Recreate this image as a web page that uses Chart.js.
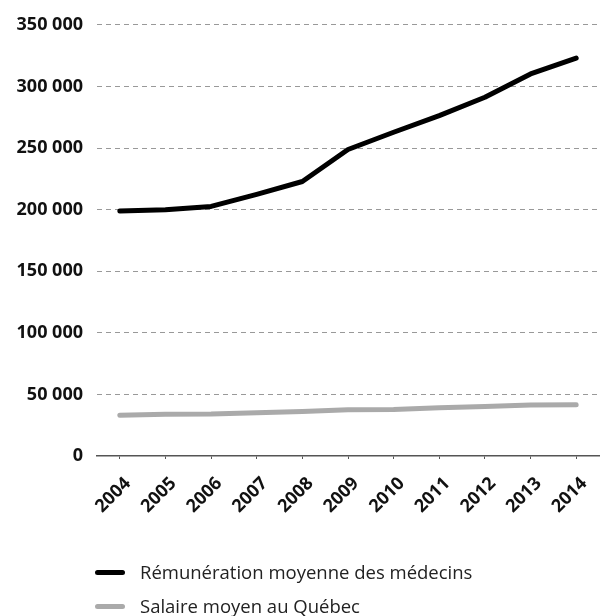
<!DOCTYPE html>
<html>
<head>
<meta charset="utf-8">
<script src="https://cdn.jsdelivr.net/npm/chart.js@4/dist/chart.umd.min.js"></script>
<style>
  html, body { margin: 0; padding: 0; background: #fff; overflow: hidden; }
  #wrap { position: relative; width: 601px; height: 616px; }
  #graphique { display: block; }
  #legende { position: absolute; left: 95px; top: 555px; font-family: "Open Sans", sans-serif; font-size: 18.5px; color: #222; }
  .item { display: flex; align-items: center; height: 34px; line-height: 34px; white-space: nowrap; }
  .trait { width: 30px; height: 5px; border-radius: 3px; margin-right: 15px; }
</style>
</head>
<body>
<div id="wrap">
  <canvas id="graphique" width="601" height="616"></canvas>
  <div id="legende"></div>
</div>
<script>
// donnees
const annees = ['2004', '2005', '2006', '2007', '2008', '2009', '2010', '2011', '2012', '2013', '2014'];
const remunerationMedecins = [198800, 199900, 202600, 212300, 222800, 248800, 262800, 276300, 291200, 310100, 323000];
const salaireMoyen = [33000, 33800, 34000, 35100, 36200, 37500, 37800, 39100, 40200, 41300, 41600];
const nomsSeries = ['Rémunération moyenne des médecins', 'Salaire moyen au Québec'];
const couleurs = ['#000000', '#aaaaaa'];
const yMax = 350000;
const yPas = 50000;

function formatMilliers(v) {
    return String(v).replace(/\B(?=(\d{3})+(?!\d))/g, ' ');
}

function serie(nom, valeurs, couleur) {
    return {
        label: nom,
        data: valeurs,
        borderColor: couleur,
        backgroundColor: couleur,
        borderWidth: 5,
        pointRadius: 0,
        borderCapStyle: 'round',
        borderJoinStyle: 'round',
        tension: 0
    };
}

var data = {
    labels: annees,
    datasets: [
        serie(nomsSeries[0], remunerationMedecins, couleurs[0]),
        serie(nomsSeries[1], salaireMoyen, couleurs[1])
    ]
};

const config = {
    type: 'line',
    data,
    options: {
        responsive: false,
        animation: false,
        layout: { padding: { top: 24, right: 2, left: 0, bottom: 0 } },
        plugins: {
            legend: { display: false },
            tooltip: { enabled: false }
        },
        scales: {
            x: {
                offset: true,
                afterFit: function(s) {
                    s.height = 160;
                    s.paddingLeft = 0;
                    s.paddingRight = 0;
                },
                grid: { drawOnChartArea: false, tickLength: 3, color: '#555', offset: false },
                border: { color: '#555', width: 1.5 },
                ticks: {
                    maxRotation: 45, minRotation: 45,
                    padding: 14,
                    labelOffset: 8,
                    color: '#111',
                    font: { family: 'Open Sans', size: 18, weight: 'bold' }
                }
            },
            y: {
                min: 0,
                max: yMax,
                afterFit: function(s) { s.width = 97; },
                border: { display: false, dash: [5, 4] },
                grid: {
                    drawTicks: false,
                    color: function(c) { return c.tick.value === 0 ? 'rgba(0,0,0,0)' : '#999'; },
                    lineWidth: 1
                },
                ticks: {
                    stepSize: yPas,
                    padding: 14,
                    color: '#111',
                    font: { family: 'Open Sans', size: 18, weight: 'bold' },
                    callback: function(v) { return formatMilliers(v); }
                }
            }
        }
    }
};

var ctx = document.getElementById('graphique').getContext('2d');
var chart = new Chart(ctx, config);

// legende html construite a partir des series
var leg = document.getElementById('legende');
chart.data.datasets.forEach(function(d) {
    var item = document.createElement('div');
    item.className = 'item';
    var t = document.createElement('span');
    t.className = 'trait';
    t.style.background = d.borderColor;
    item.appendChild(t);
    item.appendChild(document.createTextNode(d.label));
    leg.appendChild(item);
});
</script>
</body>
</html>
